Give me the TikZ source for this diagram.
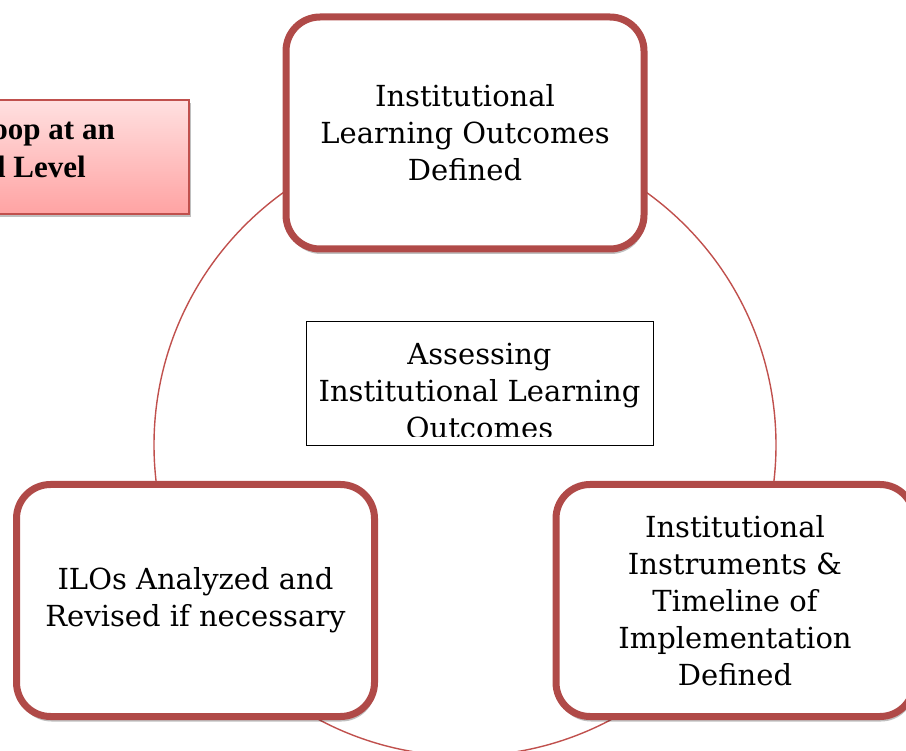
\documentclass[tikz,border=0pt]{standalone}
\usepackage{fontspec}
\usepackage{xcolor}
\usepackage{tikz}
\usetikzlibrary{shadows}
\newfontfamily\cardfont{DejaVu Serif}
\newfontfamily\bannerfont{Liberation Serif}
\definecolor{loopred}{RGB}{176, 74, 72}
\definecolor{ringred}{RGB}{192, 80, 77}
\definecolor{pinktop}{RGB}{255, 224, 224}
\definecolor{pinkbot}{RGB}{255, 163, 163}

\begin{document}
\begin{tikzpicture}[x=1pt, y=-1pt,
    stage/.style={draw=loopred, line width=7pt, fill=white, rounded corners=34pt,
      minimum width=358pt, minimum height=232pt, inner sep=0pt, align=center,
      font=\cardfont\fontsize{29pt}{37pt}\selectfont,
      drop shadow={shadow xshift=1pt, shadow yshift=-5pt, opacity=0.25, fill=black}},
    hub/.style={draw=black, line width=0.8pt, minimum width=347pt, minimum height=124pt, inner sep=0pt},
    hubtext/.style={align=center, inner sep=0pt, font=\cardfont\fontsize{29pt}{37pt}\selectfont},
    banner/.style={draw=ringred, line width=1.5pt, top color=pinktop, bottom color=pinkbot,
      minimum width=390pt, minimum height=114pt, inner sep=0pt,
      drop shadow={shadow xshift=2pt, shadow yshift=-3pt, opacity=0.25, fill=black}},
    bannertext/.style={inner sep=0pt, font=\bannerfont\bfseries\fontsize{31pt}{38pt}\selectfont}]
  \path[use as bounding box, clip] (0,0) rectangle (906,751);

  % Ring behind the stages
  \node[draw=ringred, line width=1.4pt, circle, minimum size=622pt, inner sep=0pt] (ring) at (465,445) {};

  % Title banner, running off the left edge
  \node[banner] (title) at (-6,157) {};
  \node[bannertext, anchor=base east] (titleA) at (115,140) {oop at an};
  \node[bannertext, anchor=base east] (titleB) at (86,178) {l Level};

  % Stages of the loop
  \node[stage] (defined) at (465,133) {Institutional\\Learning Outcomes\\Defined};
  \node[stage] (instruments) at (735,600.5) {Institutional\\Instruments \&\\Timeline of\\Implementation\\Defined};
  \node[stage] (revised) at (195.5,600.5) {ILOs Analyzed and\\Revised if necessary};

  % Centre box, text cut at the bottom
  \node[hub] (assess) at (479.5,383) {};
  \begin{scope}
    \clip (assess.north west) rectangle ([yshift=9pt]assess.south east);
    \node[hubtext] (assesstext) at ([yshift=-8pt]assess.center) {Assessing\\Institutional Learning\\Outcomes};
  \end{scope}
\end{tikzpicture}
\end{document}
